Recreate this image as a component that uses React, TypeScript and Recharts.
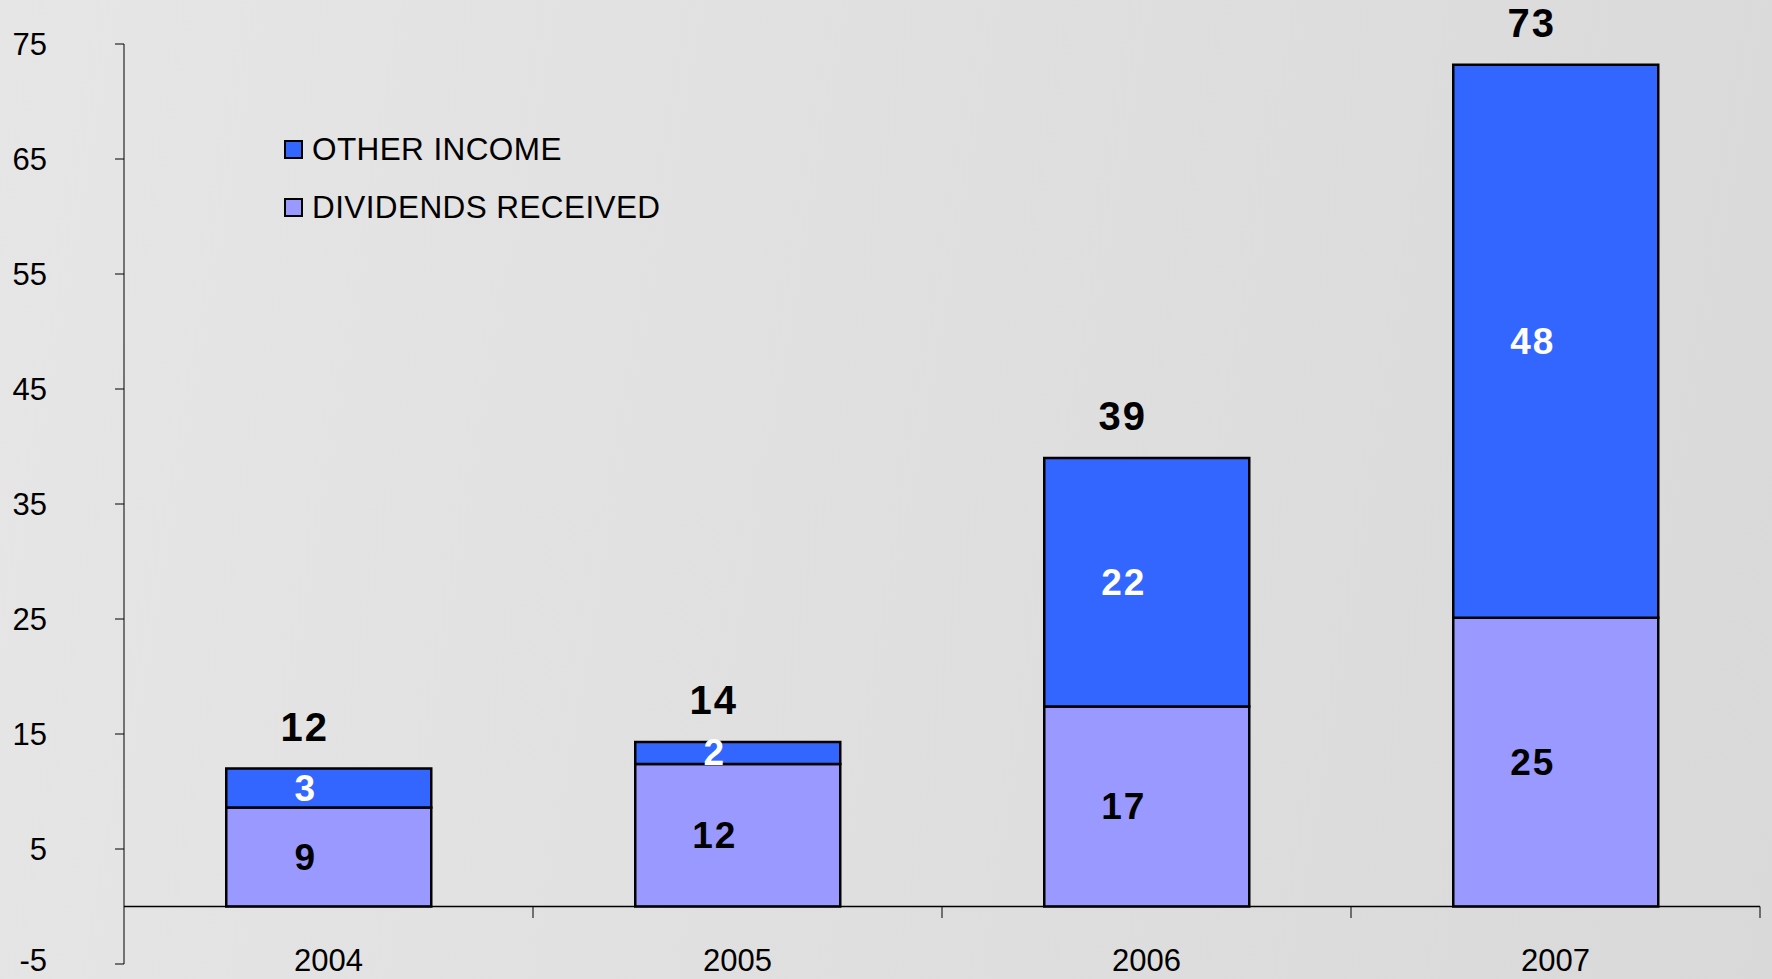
import React from "react";
import { BarChart, Bar, XAxis, YAxis, ReferenceLine, LabelList } from "recharts";

// data -----------------------------------------------------------------------
const years = ["2004", "2005", "2006", "2007"];
const dividendsReceived = [8.6, 12.4, 17.4, 25.1];
const otherIncome = [3.4, 1.9, 21.6, 48.1];
const yTicks = [-5, 5, 15, 25, 35, 45, 55, 65, 75];
const slotCenters = [0.5, 1.5, 2.5, 3.5]; // position of each year on the edge axis
const categoryEdges = [1, 2, 3, 4]; // boundaries between years, same units

const W = 1772;
const H = 979;
const FONT = '"Liberation Sans", Arial, sans-serif';
const C = {
  other: "#3366FF",
  dividends: "#9999FF",
  ink: "#000000",
};

const series = [
  { key: "other", name: "OTHER INCOME", color: C.other },
  { key: "dividends", name: "DIVIDENDS RECEIVED", color: C.dividends },
];

const data = years.map((year, i) => ({
  year,
  slot: slotCenters[i],
  dividends: dividendsReceived[i],
  other: otherIncome[i],
  total: dividendsReceived[i] + otherIncome[i],
}));

// labels ---------------------------------------------------------------------
const segmentLabel = (color: string) => (p: any) => {
  const vb = p.viewBox || p;
  const { x, y, width, height } = vb;
  return (
    <text
      x={x + width / 2 - 23}
      y={y + height / 2}
      fill={color}
      textAnchor="middle"
      dominantBaseline="central"
      fontFamily={FONT}
      fontWeight="bold"
      fontSize={37}
      letterSpacing={2}
    >
      {Math.round(p.value)}
    </text>
  );
};

const totalLabel = (p: any) => {
  const vb = p.viewBox || p;
  const { x, y, width } = vb;
  return (
    <text
      x={x + width / 2 - 24}
      y={y - 42}
      fill={C.ink}
      textAnchor="middle"
      dominantBaseline="central"
      fontFamily={FONT}
      fontWeight="bold"
      fontSize={40}
      letterSpacing={2}
    >
      {Math.round(p.value)}
    </text>
  );
};

const YearTick = (p: any) => (
  <text
    x={p.x}
    y={p.y - 4}
    fill={C.ink}
    textAnchor="middle"
    dominantBaseline="central"
    fontFamily={FONT}
    fontSize={31}
  >
    {p.payload.value}
  </text>
);

// keep the lowest tick label inside the picture
const ValueTick = (p: any) => (
  <text
    x={p.x}
    y={Math.min(p.y, H - 19)}
    fill={C.ink}
    textAnchor="end"
    dominantBaseline="central"
    fontFamily={FONT}
    fontSize={31}
  >
    {p.payload.value}
  </text>
);

const LegendBox: React.FC = () => (
  <div style={{ position: "absolute", left: 284, top: 120, fontFamily: FONT }}>
    {series.map((s) => (
      <div key={s.key} style={{ display: "flex", alignItems: "center", height: 58 }}>
        <div
          style={{
            width: 15,
            height: 15,
            background: s.color,
            border: "2px solid #000",
            marginRight: 9,
          }}
        />
        <span style={{ fontSize: 31.5, letterSpacing: 0.4, color: C.ink, whiteSpace: "nowrap" }}>{s.name}</span>
      </div>
    ))}
  </div>
);

// chart ----------------------------------------------------------------------
export default function App() {
  return (
    <div
      style={{
        position: "absolute",
        left: 0,
        top: 0,
        width: W,
        height: H,
        overflow: "hidden",
        background: "linear-gradient(100deg, #e7e6e7 0%, #e0e0e0 45%, #d9d9d9 100%)",
      }}
    >
      <BarChart
        width={W}
        height={H}
        data={data}
        margin={{ top: 44, right: 12, bottom: 0, left: 0 }}
        barCategoryGap="25%"
      >
        <XAxis
          dataKey="year"
          height={15}
          axisLine={false}
          tickLine={false}
          tickSize={0}
          tickMargin={0}
          interval={0}
          tick={<YearTick />}
        />
        <XAxis xAxisId="edge" dataKey="slot" type="number" domain={[0, 4]} allowDataOverflow hide />
        <YAxis
          width={124}
          domain={[-5, 75]}
          ticks={yTicks}
          interval={0}
          allowDataOverflow
          axisLine={{ stroke: C.ink, strokeWidth: 1 }}
          tickLine={{ stroke: C.ink, strokeWidth: 1 }}
          tickSize={9}
          tickMargin={68}
          tick={<ValueTick />}
        />
        <Bar dataKey="dividends" stackId="a" fill={C.dividends} stroke={C.ink} strokeWidth={2.5} isAnimationActive={false}>
          <LabelList dataKey="dividends" content={segmentLabel(C.ink)} />
        </Bar>
        <Bar dataKey="other" stackId="a" fill={C.other} stroke={C.ink} strokeWidth={2.5} isAnimationActive={false}>
          <LabelList dataKey="other" content={segmentLabel("#ffffff")} />
          <LabelList dataKey="total" content={totalLabel} />
        </Bar>
        <ReferenceLine y={0} stroke={C.ink} strokeWidth={1.5} />
        {categoryEdges.map((e) => (
          <ReferenceLine
            key={e}
            xAxisId="edge"
            segment={[{ x: e, y: 0 }, { x: e, y: -1 }]}
            stroke={C.ink}
            strokeWidth={1}
            ifOverflow="visible"
          />
        ))}
      </BarChart>
      <LegendBox />
    </div>
  );
}
